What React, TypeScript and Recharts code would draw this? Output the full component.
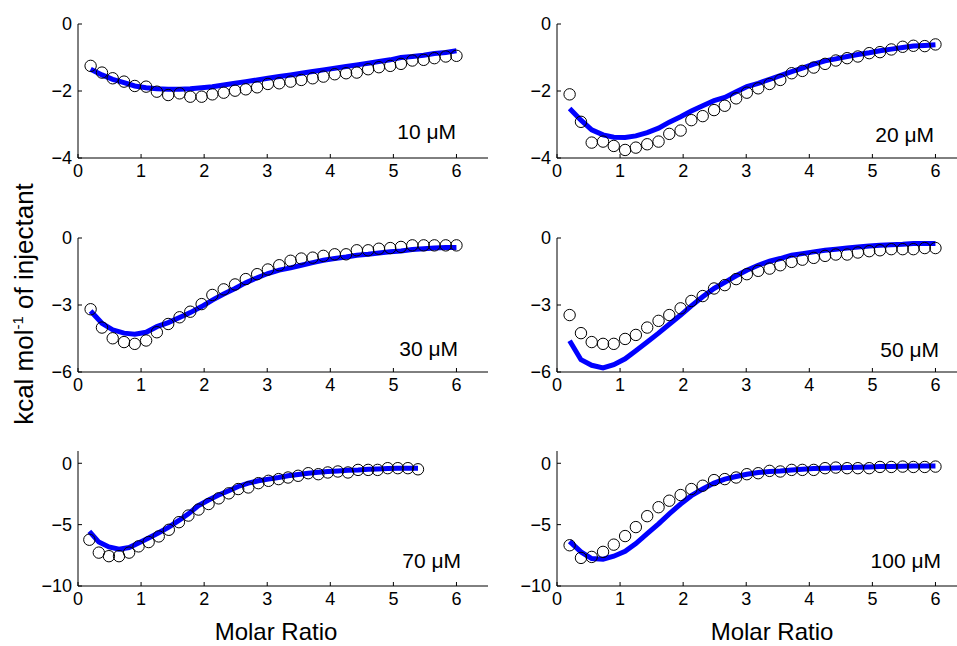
import React from 'react';
import { ComposedChart, Line, XAxis, YAxis } from 'recharts';

// Molar ratio (injection) positions
const xA = [0.20, 0.38, 0.55, 0.73, 0.90, 1.08, 1.25, 1.43, 1.61, 1.78, 1.96, 2.13, 2.31, 2.49, 2.66, 2.84, 3.01, 3.19, 3.37, 3.54, 3.72, 3.89, 4.07, 4.25, 4.42, 4.60, 4.77, 4.95, 5.12, 5.30, 5.48, 5.65, 5.83, 6.00];
const x70 = [0.18, 0.33, 0.49, 0.65, 0.81, 0.96, 1.12, 1.28, 1.44, 1.60, 1.75, 1.91, 2.07, 2.23, 2.39, 2.54, 2.70, 2.86, 3.02, 3.18, 3.33, 3.49, 3.65, 3.81, 3.96, 4.12, 4.28, 4.44, 4.60, 4.75, 4.91, 5.07, 5.23, 5.39];

const obs10 = [-1.25, -1.45, -1.62, -1.72, -1.85, -1.87, -2.02, -2.12, -2.07, -2.17, -2.17, -2.10, -2.05, -1.99, -1.95, -1.89, -1.79, -1.77, -1.72, -1.67, -1.62, -1.57, -1.50, -1.47, -1.45, -1.35, -1.29, -1.25, -1.19, -1.09, -1.07, -1.02, -0.97, -0.95];
const fit10 = [-1.35, -1.52, -1.65, -1.75, -1.85, -1.90, -1.93, -1.95, -1.95, -1.93, -1.90, -1.87, -1.82, -1.77, -1.72, -1.67, -1.62, -1.57, -1.52, -1.47, -1.42, -1.37, -1.32, -1.27, -1.22, -1.17, -1.12, -1.07, -1.00, -0.97, -0.93, -0.88, -0.85, -0.80];

const obs20 = [-2.10, -2.92, -3.54, -3.51, -3.64, -3.76, -3.69, -3.59, -3.51, -3.28, -3.18, -2.87, -2.75, -2.57, -2.44, -2.22, -2.05, -1.92, -1.79, -1.67, -1.47, -1.40, -1.30, -1.19, -1.09, -1.02, -0.97, -0.87, -0.84, -0.76, -0.68, -0.65, -0.66, -0.61];
const fit20 = [-2.52, -2.87, -3.16, -3.31, -3.38, -3.39, -3.34, -3.24, -3.11, -2.93, -2.77, -2.60, -2.44, -2.29, -2.19, -2.02, -1.87, -1.77, -1.65, -1.54, -1.42, -1.32, -1.20, -1.10, -1.04, -0.97, -0.91, -0.86, -0.80, -0.75, -0.70, -0.66, -0.64, -0.62];

const obs30 = [-3.19, -4.01, -4.49, -4.66, -4.74, -4.59, -4.22, -3.85, -3.55, -3.30, -2.96, -2.55, -2.30, -2.08, -1.84, -1.62, -1.41, -1.22, -1.02, -0.92, -0.88, -0.80, -0.73, -0.73, -0.55, -0.55, -0.48, -0.45, -0.40, -0.33, -0.33, -0.33, -0.33, -0.33];
const fit30 = [-3.27, -3.82, -4.11, -4.26, -4.31, -4.22, -3.97, -3.79, -3.56, -3.34, -3.07, -2.78, -2.51, -2.26, -2.00, -1.78, -1.59, -1.44, -1.34, -1.22, -1.10, -1.00, -0.92, -0.85, -0.77, -0.73, -0.67, -0.62, -0.58, -0.52, -0.48, -0.45, -0.43, -0.42];

const obs50 = [-3.45, -4.26, -4.66, -4.74, -4.74, -4.52, -4.34, -4.01, -3.71, -3.45, -3.15, -2.82, -2.60, -2.26, -2.11, -1.84, -1.62, -1.47, -1.37, -1.22, -1.07, -0.97, -0.89, -0.80, -0.74, -0.74, -0.65, -0.59, -0.55, -0.50, -0.50, -0.50, -0.45, -0.45];
const fit50 = [-4.60, -5.45, -5.70, -5.82, -5.67, -5.41, -5.05, -4.66, -4.26, -3.86, -3.45, -3.04, -2.63, -2.26, -1.99, -1.69, -1.44, -1.22, -1.04, -0.92, -0.77, -0.70, -0.62, -0.55, -0.50, -0.45, -0.40, -0.36, -0.33, -0.30, -0.28, -0.25, -0.25, -0.25];

const obs70 = [-6.23, -7.28, -7.57, -7.57, -7.28, -6.77, -6.42, -5.96, -5.42, -4.80, -4.26, -3.77, -3.32, -2.86, -2.45, -2.10, -1.97, -1.62, -1.43, -1.29, -1.16, -1.02, -0.81, -0.89, -0.75, -0.67, -0.75, -0.54, -0.54, -0.54, -0.40, -0.40, -0.40, -0.49];
const fit70 = [-5.55, -6.42, -6.82, -7.01, -6.87, -6.50, -6.09, -5.66, -5.20, -4.66, -4.12, -3.45, -2.99, -2.59, -2.24, -1.89, -1.62, -1.43, -1.29, -1.16, -1.02, -0.92, -0.81, -0.73, -0.67, -0.62, -0.57, -0.54, -0.49, -0.46, -0.43, -0.40, -0.40, -0.40];

const obs100 = [-6.68, -7.71, -7.63, -7.22, -6.63, -5.93, -5.20, -4.31, -3.58, -3.05, -2.59, -2.10, -1.83, -1.37, -1.29, -1.16, -0.89, -0.81, -0.62, -0.67, -0.54, -0.54, -0.54, -0.40, -0.35, -0.40, -0.40, -0.40, -0.30, -0.30, -0.27, -0.30, -0.30, -0.27];
const fit100 = [-6.36, -7.22, -7.76, -7.82, -7.57, -7.17, -6.55, -5.74, -4.93, -4.12, -3.32, -2.64, -2.10, -1.62, -1.29, -1.08, -0.89, -0.75, -0.67, -0.62, -0.54, -0.49, -0.43, -0.40, -0.38, -0.35, -0.32, -0.30, -0.27, -0.27, -0.24, -0.22, -0.22, -0.22];

const xTicks = [0, 1, 2, 3, 4, 5, 6];
const yTicksA = [-4, -2, 0];
const yTicksB = [-6, -3, 0];
const yTicksC = [-10, -5, 0];
const yDomA = [-4, 0];
const yDomB = [-6, 0];
const yDomC = [-10, 1];
const concLabels = ['10 \u03bcM', '20 \u03bcM', '30 \u03bcM', '50 \u03bcM', '70 \u03bcM', '100 \u03bcM'];
const xLabel = 'Molar Ratio';

const FONT = "'Liberation Sans', Arial, Helvetica, sans-serif";
const BLUE = '#0000ff';

const fmt = (v: number) => String(v).replace('-', '\u2212');
const EmptyTick = () => <g />;

type PanelProps = {
  xs: number[];
  obs: number[];
  fit: number[];
  yDomain: number[];
  yTicks: number[];
  left: number;
  top: number;
  yw: number;
  plotH: number;
};

function Panel({ xs, obs, fit, yDomain, yTicks, left, top, yw, plotH }: PanelProps) {
  const rows = xs.map((x, i) => ({ x, obs: obs[i], fit: fit[i] }));
  const W = 500;
  const plotW = 410;
  const mTop = 24;
  const axH = 30;
  const mBottom = 12;
  const H = mTop + plotH + axH + mBottom;
  const tickStyle = { fill: '#000', fontSize: 18, fontFamily: FONT };
  return (
    <div style={{ position: 'absolute', left, top }}>
      <ComposedChart
        width={W}
        height={H}
        data={rows}
        margin={{ top: mTop, right: W - yw - plotW, bottom: mBottom, left: 0 }}
      >
        <XAxis
          xAxisId="b"
          type="number"
          dataKey="x"
          domain={[0, 6.5]}
          ticks={xTicks}
          interval={0}
          orientation="bottom"
          height={axH}
          tickSize={-4}
          tickMargin={10}
          stroke="#000"
          tick={tickStyle}
          allowDataOverflow
        />
        <XAxis
          xAxisId="t"
          type="number"
          dataKey="x"
          domain={[0, 6.5]}
          ticks={xTicks}
          interval={0}
          orientation="top"
          height={0}
          tickSize={-4}
          stroke="#000"
          tick={EmptyTick}
          allowDataOverflow
        />
        <YAxis
          yAxisId="l"
          type="number"
          domain={yDomain}
          ticks={yTicks}
          interval={0}
          width={yw}
          tickSize={-4}
          tickMargin={10}
          stroke="#000"
          tick={tickStyle}
          tickFormatter={fmt}
          allowDataOverflow
        />
        <YAxis
          yAxisId="r"
          orientation="right"
          type="number"
          domain={yDomain}
          ticks={yTicks}
          interval={0}
          width={0}
          tickSize={-4}
          stroke="#000"
          tick={EmptyTick}
          allowDataOverflow
        />
        <Line
          xAxisId="b"
          yAxisId="l"
          type="linear"
          dataKey="fit"
          stroke={BLUE}
          strokeWidth={5}
          dot={false}
          activeDot={false}
          isAnimationActive={false}
        />
        <Line
          xAxisId="b"
          yAxisId="l"
          type="linear"
          dataKey="obs"
          stroke="none"
          dot={{ r: 5.7, fill: 'none', stroke: '#000', strokeWidth: 1 }}
          activeDot={false}
          isAnimationActive={false}
        />
      </ComposedChart>
    </div>
  );
}

export default function App() {
  const annStyle = { fontSize: 21, fontFamily: FONT, fill: '#000' };
  return (
    <div
      style={{
        position: 'absolute',
        left: 0,
        top: 0,
        width: 957,
        height: 646,
        overflow: 'hidden',
        background: '#fff',
        fontFamily: FONT,
      }}
    >
      <Panel xs={xA} obs={obs10} fit={fit10} yDomain={yDomA} yTicks={yTicksA} left={0} top={0} yw={78} plotH={134} />
      <Panel xs={xA} obs={obs20} fit={fit20} yDomain={yDomA} yTicks={yTicksA} left={480} top={0} yw={77} plotH={134} />
      <Panel xs={xA} obs={obs30} fit={fit30} yDomain={yDomB} yTicks={yTicksB} left={0} top={214} yw={78} plotH={134} />
      <Panel xs={xA} obs={obs50} fit={fit50} yDomain={yDomB} yTicks={yTicksB} left={480} top={214} yw={77} plotH={134} />
      <Panel xs={x70} obs={obs70} fit={fit70} yDomain={yDomC} yTicks={yTicksC} left={0} top={427} yw={78} plotH={135} />
      <Panel xs={xA} obs={obs100} fit={fit100} yDomain={yDomC} yTicks={yTicksC} left={480} top={427} yw={77} plotH={135} />
      <svg width={957} height={646} style={{ position: 'absolute', left: 0, top: 0, pointerEvents: 'none' }}>
        <text x={456} y={139} textAnchor="end" {...annStyle}>{concLabels[0]}</text>
        <text x={934} y={142} textAnchor="end" {...annStyle}>{concLabels[1]}</text>
        <text x={458} y={356} textAnchor="end" {...annStyle}>{concLabels[2]}</text>
        <text x={939} y={357} textAnchor="end" {...annStyle}>{concLabels[3]}</text>
        <text x={461} y={568} textAnchor="end" {...annStyle}>{concLabels[4]}</text>
        <text x={941} y={568} textAnchor="end" {...annStyle}>{concLabels[5]}</text>
        <text x={276} y={640} textAnchor="middle" fontSize={24} fontFamily={FONT} fill="#000">{xLabel}</text>
        <text x={772} y={640} textAnchor="middle" fontSize={24} fontFamily={FONT} fill="#000">{xLabel}</text>
        <text
          x={33}
          y={304}
          transform="rotate(-90 33 304)"
          textAnchor="middle"
          fontSize={26}
          fontFamily={FONT}
          fill="#000"
        >
          kcal mol<tspan fontSize={15} dy={-10}>-1</tspan>
          <tspan dy={10}> of injectant</tspan>
        </text>
      </svg>
    </div>
  );
}
